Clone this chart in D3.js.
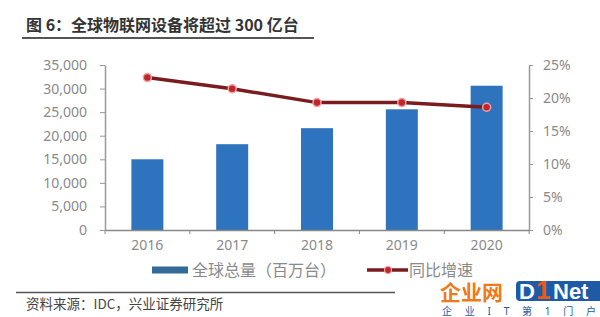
<!DOCTYPE html>
<html>
<head>
<meta charset="utf-8">
<script src="https://cdn.jsdelivr.net/npm/d3@7"></script>
<style>
  body { margin: 0; background: #fff; }
  svg { display: block; }
  text { font-family: "Noto Sans", "Noto Sans CJK SC", sans-serif; }
</style>
</head>
<body>
<svg id="chart" width="600" height="317"></svg>
<script>
// data
const years = ["2016", "2017", "2018", "2019", "2020"];
const devices = [15000, 18200, 21600, 25600, 30600];   // 百万台
const growth = [0.231, 0.214, 0.193, 0.193, 0.186];    // 同比增速
const leftTicks = [0, 5000, 10000, 15000, 20000, 25000, 30000, 35000];
const rightTicks = [0, 0.05, 0.10, 0.15, 0.20, 0.25];

const svg = d3.select("#chart");

const plotLeft = 105, plotRight = 529, plotTop = 65, plotBottom = 230;

let x = d3.scaleBand().domain(years).range([plotLeft, plotRight])
          .paddingInner(0.623).paddingOuter(0.311);
let yL = d3.scaleLinear().domain([0, 35000]).range([plotBottom, plotTop]);
let yR = d3.scaleLinear().domain([0, 0.25]).range([plotBottom, plotTop]);

// title
svg.append("text")
   .attr("x", 26).attr("y", 31)
   .attr("font-size", 16).attr("font-weight", "bold")
   .attr("fill", "#333")
   .style("font-family", "'Noto Sans CJK SC', sans-serif")
   .text("图 6：全球物联网设备将超过 300 亿台");
svg.append("line")
   .attr("x1", 22).attr("x2", 314).attr("y1", 38).attr("y2", 38)
   .attr("stroke", "#555").attr("stroke-width", 2);

// bars
svg.selectAll("rect.bar")
   .data(devices)
   .enter()
   .append("rect")
   .attr("class", "bar")
   .attr("x", (d, i) => x(years[i]))
   .attr("y", (d) => yL(d))
   .attr("width", x.bandwidth())
   .attr("height", (d) => yL(0) - yL(d))
   .attr("fill", "#2e73bd");

// axes
let styleAxis = (g) => {
  g.select(".domain").attr("stroke", "#999").attr("stroke-width", 1.5);
  g.selectAll(".tick line").attr("stroke", "#999");
  g.selectAll(".tick text").attr("fill", "#8a8a8a")
   .attr("font-size", 14).style("font-family", "'Noto Sans', sans-serif");
};

svg.append("g")
   .attr("transform", `translate(${plotLeft},0)`)
   .call(d3.axisLeft(yL).tickValues(leftTicks).tickSize(5).tickPadding(13)
           .tickSizeOuter(0).tickFormat(d3.format(",")))
   .call(styleAxis);

svg.append("g")
   .attr("transform", `translate(${plotRight},0)`)
   .call(d3.axisRight(yR).tickValues(rightTicks).tickSize(4).tickPadding(10)
           .tickSizeOuter(0).tickFormat(d3.format(".0%")))
   .call(styleAxis);

// bottom axis: line, boundary ticks, year labels
let xAxis = svg.append("g")
   .attr("transform", `translate(0,${plotBottom})`)
   .call(d3.axisBottom(x).tickSize(0).tickPadding(10).tickSizeOuter(0))
   .call(styleAxis);
xAxis.select(".domain").attr("stroke", "#888");
let bounds = d3.range(years.length + 1).map((i) => plotLeft + i * x.step());
xAxis.selectAll("line.bound")
   .data(bounds)
   .enter()
   .append("line")
   .attr("class", "bound")
   .attr("x1", (d) => d).attr("x2", (d) => d)
   .attr("y1", 0).attr("y2", 4)
   .attr("stroke", "#888");

// growth line
let lineGen = d3.line()
   .x((d, i) => x(years[i]) + x.bandwidth() / 2)
   .y((d) => yR(d));

svg.append("path")
   .datum(growth)
   .attr("d", lineGen)
   .attr("fill", "none")
   .attr("stroke", "#7a1c1f")
   .attr("stroke-width", 3.5);

svg.selectAll("circle.pt")
   .data(growth)
   .enter()
   .append("circle")
   .attr("class", "pt")
   .attr("cx", (d, i) => x(years[i]) + x.bandwidth() / 2)
   .attr("cy", (d) => yR(d))
   .attr("r", 4)
   .attr("fill", "#c0262d")
   .attr("stroke", "#f2a0a0")
   .attr("stroke-width", 1.5);

// legend
let legend = svg.append("g").style("font-family", "'Noto Sans CJK SC', sans-serif");
legend.append("rect")
   .attr("x", 152).attr("y", 266.5).attr("width", 36).attr("height", 7)
   .attr("fill", "#336a98");
legend.append("text")
   .attr("x", 192).attr("y", 276)
   .attr("font-size", 16).attr("fill", "#8a8a8a")
   .text("全球总量（百万台）");
legend.append("line")
   .attr("x1", 367).attr("x2", 408).attr("y1", 270).attr("y2", 270)
   .attr("stroke", "#7a1c1f").attr("stroke-width", 3.5);
legend.append("circle")
   .attr("cx", 388).attr("cy", 270).attr("r", 3.5)
   .attr("fill", "#c0262d").attr("stroke", "#f2a0a0").attr("stroke-width", 1.2);
legend.append("text")
   .attr("x", 409).attr("y", 276)
   .attr("font-size", 16).attr("fill", "#8a8a8a")
   .text("同比增速");

// source line
svg.append("line")
   .attr("x1", 16).attr("x2", 395).attr("y1", 292.5).attr("y2", 292.5)
   .attr("stroke", "#555").attr("stroke-width", 1.5);
svg.append("text")
   .attr("x", 26).attr("y", 309)
   .attr("font-size", 13.5).attr("fill", "#444")
   .style("font-family", "'Noto Sans CJK SC', sans-serif")
   .text("资料来源：IDC，兴业证券研究所");

// watermark logo
let logo = svg.append("g").style("font-family", "'Noto Sans CJK SC', sans-serif");
logo.append("text")
   .attr("x", 440).attr("y", 300)
   .attr("font-size", 21).attr("font-weight", "bold")
   .attr("fill", "#f07a1a")
   .text("企业网");
logo.append("rect")
   .attr("x", 516).attr("y", 281).attr("width", 90).attr("height", 20)
   .attr("rx", 4).attr("fill", "#1f5aa6");
logo.append("text")
   .attr("x", 519).attr("y", 299)
   .attr("font-size", 22).attr("font-weight", "bold")
   .attr("fill", "#fff")
   .style("font-family", "'Liberation Sans', sans-serif")
   .text("D");
logo.append("text")
   .attr("x", 536).attr("y", 299)
   .attr("font-size", 26).attr("font-weight", "bold")
   .attr("fill", "#e8591a")
   .style("font-family", "'Liberation Sans', sans-serif")
   .text("1");
logo.append("text")
   .attr("x", 553).attr("y", 299)
   .attr("font-size", 22).attr("font-weight", "bold")
   .attr("fill", "#fff")
   .style("font-family", "'Liberation Sans', sans-serif")
   .text("Net");
logo.append("text")
   .attr("x", 442).attr("y", 315)
   .attr("font-size", 10).attr("fill", "#1f5aa6")
   .attr("textLength", 154).attr("lengthAdjust", "spacing")
   .text("企业IT第1门户");
</script>
</body>
</html>
